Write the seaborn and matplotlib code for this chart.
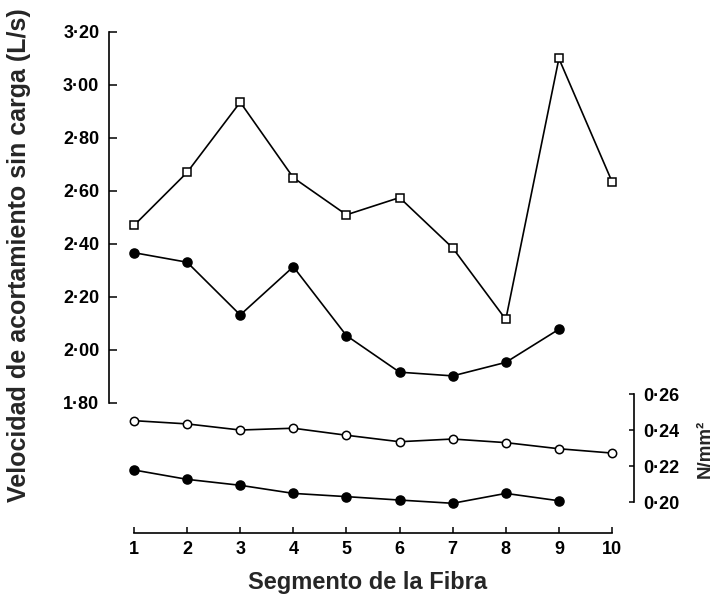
import matplotlib
matplotlib.use("Agg")
import matplotlib.pyplot as plt
import numpy as np
import pandas as pd
import seaborn as sns

# ---- data ----
segments_open = [1, 2, 3, 4, 5, 6, 7, 8, 9, 10]
segments_filled = [1, 2, 3, 4, 5, 6, 7, 8, 9]
velocity_open = [2.47, 2.67, 2.935, 2.65, 2.51, 2.575, 2.385, 2.115, 3.10, 2.635]
velocity_filled = [2.367, 2.331, 2.132, 2.314, 2.054, 1.916, 1.902, 1.953, 2.078]
tension_open = [0.2452, 0.2434, 0.2400, 0.2410, 0.2371, 0.2335, 0.2350, 0.2330, 0.2296, 0.2272]
tension_filled = [0.2178, 0.2126, 0.2093, 0.2048, 0.2030, 0.2011, 0.1993, 0.2048, 0.2007]
left_ticks = [1.80, 2.00, 2.20, 2.40, 2.60, 2.80, 3.00, 3.20]
right_ticks = [0.20, 0.22, 0.24, 0.26]
x_ticks = [1, 2, 3, 4, 5, 6, 7, 8, 9, 10]
xlabel = "Segmento de la Fibra"
ylabel = "Velocidad de acortamiento sin carga (L/s)"
right_label = "N/mm²"

sns.set_style("ticks")
plt.rcParams["font.family"] = ["Liberation Sans", "DejaVu Sans"]

fig = plt.figure(figsize=(7.16, 5.98), dpi=100)
ax = fig.add_axes([0.1522, 0.1087, 0.7333, 0.8378])
ax2 = ax.twinx()

lw = 1.2
common = dict(color="black", linewidth=lw, markeredgecolor="black",
              markeredgewidth=1.1, clip_on=False, legend=False)

df_vo = pd.DataFrame({"seg": segments_open, "val": velocity_open})
df_vf = pd.DataFrame({"seg": segments_filled, "val": velocity_filled})
df_to = pd.DataFrame({"seg": segments_open, "val": tension_open})
df_tf = pd.DataFrame({"seg": segments_filled, "val": tension_filled})

sns.lineplot(data=df_vo, x="seg", y="val", ax=ax, marker="s", markersize=5.5,
             markerfacecolor="white", **common)
sns.lineplot(data=df_vf, x="seg", y="val", ax=ax, marker="o", markersize=6.5,
             markerfacecolor="black", **common)
sns.lineplot(data=df_to, x="seg", y="val", ax=ax2, marker="o", markersize=6,
             markerfacecolor="white", **common)
sns.lineplot(data=df_tf, x="seg", y="val", ax=ax2, marker="o", markersize=6.5,
             markerfacecolor="black", **common)

ax.set_xlim(0.529, 10.414)
ax.set_ylim(1.309, 3.20)
ax2.set_ylim(0.1828, 0.4611)

for a in (ax, ax2):
    a.set_xlabel("")
    a.set_ylabel("")
    for s in a.spines.values():
        s.set_visible(False)
        s.set_linewidth(1.2)
        s.set_color("black")

ax.spines["left"].set_visible(True)
ax.spines["left"].set_bounds(1.80, 3.20)
ax.spines["bottom"].set_visible(True)
ax.spines["bottom"].set_bounds(1, 10)
ax2.spines["right"].set_visible(True)
ax2.spines["right"].set_bounds(0.20, 0.26)

ax.set_yticks(left_ticks)
ax.set_yticklabels([f"{v:.2f}".replace(".", "·") for v in left_ticks])
ax.set_xticks(x_ticks)
ax.set_xticklabels([str(v) for v in x_ticks])
ax2.set_yticks(right_ticks)
ax2.set_yticklabels([f"{v:.2f}".replace(".", "·") for v in right_ticks])

ax.tick_params(axis="y", direction="in", length=6, width=1.1, pad=7,
               labelsize=13, colors="black")
ax.tick_params(axis="x", direction="in", length=4.5, width=1.1, pad=6,
               labelsize=13, colors="black")
ax2.tick_params(axis="y", direction="in", length=3.5, width=1.1, pad=7,
                labelsize=13, colors="black")
for lab in ax.get_xticklabels() + ax.get_yticklabels() + ax2.get_yticklabels():
    lab.set_fontweight("bold")

fig.text(19 / 716, 1 - 255 / 598, ylabel, rotation=90, ha="center", va="center",
         fontsize=18, fontweight="bold")
fig.text(368 / 716, 1 - 583 / 598, xlabel, ha="center", va="center",
         fontsize=17, fontweight="bold")
fig.text(705 / 716, 1 - 449 / 598, right_label, rotation=90, ha="center",
         va="center", fontsize=13.5, fontweight="bold")

fig.savefig("out.png", dpi=100)
